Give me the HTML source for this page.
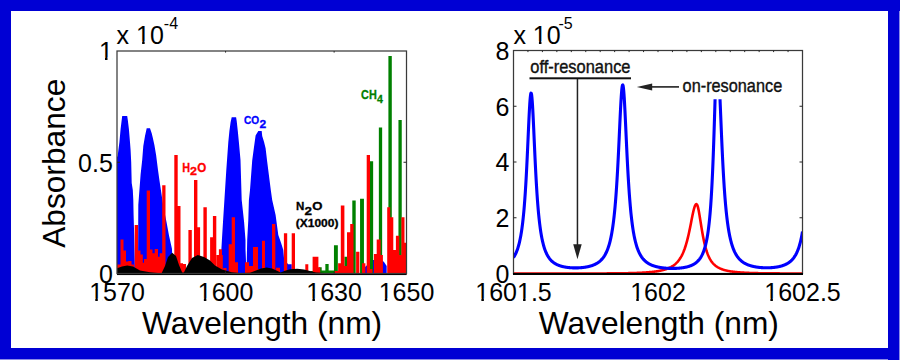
<!DOCTYPE html>
<html><head><meta charset="utf-8"><style>html,body{margin:0;padding:0;background:#fff;overflow:hidden}svg{display:block}</style></head>
<body><svg width="900" height="360" viewBox="0 0 900 360">
<rect x="0" y="0" width="900" height="360" fill="#0000d4"/>
<rect x="899" y="11" width="1" height="349" fill="#8c8ce6"/>
<rect x="0" y="359" width="888" height="1" fill="#8c8ce6"/>
<rect x="11" y="11" width="877" height="337" fill="#ffffff"/>
<defs><clipPath id="cl"><rect x="117" y="51" width="289.5" height="224.2"/></clipPath></defs>
<g clip-path="url(#cl)">
<path d="M116.0,273.5 L116.0,157.0 L117.6,156.5 L118.4,150.0 L119.4,142.2 L120.6,128.9 L121.7,120.0 L122.2,116.1 L127.2,116.1 L127.8,120.0 L128.9,128.9 L130.0,142.2 L130.6,150.0 L131.2,162.0 L131.7,183.0 L132.8,190.0 L133.3,200.0 L133.6,215.0 L134.2,235.0 L135.0,273.5Z" fill="#0000ff"/>
<path d="M138.0,273.5 L138.3,205.0 L140.6,174.4 L142.2,160.0 L143.3,146.1 L145.0,136.1 L146.7,128.3 L150.0,128.3 L151.7,133.3 L152.8,137.8 L154.4,145.0 L156.1,155.0 L158.0,170.0 L159.4,180.0 L163.6,208.0 L166.5,222.0 L169.0,235.5 L172.0,249.0 L172.5,273.5Z" fill="#0000ff"/>
<path d="M220.0,273.5 L221.9,240.0 L223.0,222.0 L224.4,200.0 L226.3,170.0 L228.3,142.2 L229.4,131.1 L230.6,122.2 L231.7,117.2 L236.1,117.2 L236.7,121.1 L237.8,131.1 L238.9,142.2 L240.5,160.0 L241.7,200.0 L244.1,222.0 L245.5,240.0 L245.5,249.0 L246.5,273.5Z" fill="#0000ff"/>
<path d="M246.5,273.5 L247.0,249.0 L247.2,240.0 L248.3,220.0 L248.9,200.0 L250.0,190.0 L252.2,160.6 L253.9,147.8 L255.6,135.6 L258.3,131.1 L261.7,131.1 L262.2,136.0 L264.0,141.7 L265.6,148.3 L267.2,161.7 L270.8,190.0 L272.2,200.0 L275.6,215.0 L278.3,235.0 L281.1,243.0 L283.3,250.0 L284.0,258.0 L288.0,264.2 L291.7,264.2 L292.0,273.5Z" fill="#0000ff"/>
<path d="M364.4,273.5 L365.0,267.0 L373.0,260.0 L381.7,260.0 L384.0,262.0 L386.7,266.0 L386.7,273.5Z" fill="#0000ff"/>
<path d="M310.45,275.0V271h2.5V275.0ZM318.90,275.0V267.2h2.8V275.0ZM325.35,275.0V263.9h3.3V275.0ZM333.95,275.0V245.3h3.9V275.0ZM344.40,275.0V256.7h2.8V275.0ZM352.30,275.0V200.5h3.4V275.0ZM360.05,275.0V198.7h3.9V275.0ZM369.85,275.0V161.3h3.3V275.0ZM378.85,275.0V127.5h3.3V275.0ZM388.40,275.0V56h3.4V275.0ZM398.45,275.0V120h3.3V275.0ZM318,275V270.6H334V275Z" fill="#008000"/>
<path d="M117.0,275.0V264.4H120.5V275.0ZM120.5,275.0V239.5H123.5V275.0ZM122.6,275.0V250.6H126.0V275.0ZM125.0,275.0V261.5H128.5V275.0ZM128.2,275.0V261H131.5V275.0ZM131.0,275.0V264.4H134.0V275.0ZM134.7,275.0V225H138.0V275.0ZM137.2,275.0V250.6H140.5V275.0ZM139.4,275.0V254.4H142.8V275.0ZM141.4,275.0V262.8H144.8V275.0ZM144.0,275.0V258.9H147.0V275.0ZM146.7,275.0V190.5H150.0V275.0ZM149.2,275.0V249.4H152.5V275.0ZM152.0,275.0V253.3H155.0V275.0ZM154.7,275.0V248.9H158.0V275.0ZM157.2,275.0V256.7H160.5V275.0ZM159.7,275.0V253.3H163.0V275.0ZM162.2,275.0V185.3H165.5V275.0ZM174.3,275.0V155H177.7V275.0ZM177.2,275.0V206.1H180.5V275.0ZM180.0,275.0V263.3H183.0V275.0ZM182.7,275.0V263.9H186.0V275.0ZM188.4,275.0V230H191.8V275.0ZM194.0,275.0V180H197.4V275.0ZM196.8,275.0V227.2H200.1V275.0ZM203.4,275.0V207.2H206.8V275.0ZM210.1,275.0V237.2H213.5V275.0ZM212.9,275.0V216.1H216.3V275.0ZM216.5,275.0V255H222.8V275.0ZM218.9,275.0V249.2H222.0V275.0ZM223.2,275.0V268H226.5V275.0ZM228.7,275.0V244.2H232.1V275.0ZM231.7,275.0V217.2H235.0V275.0ZM235.0,275.0V262.2H238.0V275.0ZM245.0,275.0V262.2H249.0V275.0ZM249.0,275.0V266H253.0V275.0ZM253.0,275.0V247H258.0V275.0ZM258.0,275.0V269H262.0V275.0ZM262.0,275.0V240.8H265.0V275.0ZM272.0,275.0V223.9H275.3V275.0ZM276.0,275.0V267.8H280.0V275.0ZM283.9,275.0V233.3H287.2V275.0ZM291.7,275.0V233.3H295.0V275.0ZM305.3,275.0V264.2H308.3V275.0ZM312.6,275.0V256.7H315.9V275.0ZM315.1,275.0V256.7H318.4V275.0ZM316.8,275.0V267.2H320.2V275.0ZM334.7,275.0V271H340.6V275.0ZM338.1,275.0V263.3H341.5V275.0ZM340.8,275.0V205.6H344.4V275.0ZM343.7,275.0V266H347.1V275.0ZM347.0,275.0V232.2H350.2V275.0ZM350.2,275.0V223.9H353.5V275.0ZM356.1,275.0V251.7H359.4V275.0ZM362.0,275.0V263.3H365.4V275.0ZM366.7,275.0V155H370.0V275.0ZM369.0,275.0V268.9H372.4V275.0ZM373.9,275.0V254H377.2V275.0ZM376.7,275.0V239.4H380.6V275.0ZM379.6,275.0V255H382.9V275.0ZM387.2,275.0V207.2H390.2V275.0ZM390.2,275.0V217.2H393.3V275.0ZM392.6,275.0V250H395.9V275.0ZM394.0,275.0V258H397.4V275.0ZM395.9,275.0V235.8H399.3V275.0ZM398.6,275.0V255H401.9V275.0ZM401.4,275.0V217.2H404.5V275.0ZM404.0,275.0V242.8H407.4V275.0Z" fill="#ff0000"/>
<path d="M117.0,268.3 L122.0,266.5 L127.2,265.6 L133.0,266.5 L140.0,270.6 L150.0,272.2 L158.0,273.0 L161.7,273.0 L165.0,266.0 L168.0,257.0 L172.2,252.8 L176.0,256.0 L179.0,265.0 L182.2,272.5 L183.9,272.5 L187.0,266.0 L192.0,258.0 L197.8,255.0 L204.0,257.0 L210.0,260.6 L215.0,265.6 L222.0,269.5 L231.7,272.2 L240.0,273.0 L250.0,272.8 L256.0,270.5 L261.0,268.5 L266.7,267.5 L272.0,268.5 L277.0,270.8 L280.6,272.5 L285.0,270.8 L290.0,269.3 L297.2,268.7 L304.0,269.5 L310.0,271.0 L316.0,272.5 L325.0,273.0 L407.0,273.0 L407.0,275.2 L117.0,275.2Z" fill="#000000"/>
</g>
<text x="244.0" y="123.8" font-size="11.5" font-weight="bold" font-family="Liberation Sans" fill="#0000ff" stroke="#0000ff" stroke-width="0.3" textLength="15.2" lengthAdjust="spacingAndGlyphs">CO</text>
<text x="259.6" y="127.9" font-size="11" font-weight="bold" font-family="Liberation Sans" fill="#0000ff" stroke="#0000ff" stroke-width="0.3" textLength="6.7" lengthAdjust="spacingAndGlyphs">2</text>
<text x="182.2" y="171.7" font-size="12.6" font-weight="bold" font-family="Liberation Sans" fill="#ff0000" stroke="#ff0000" stroke-width="0.3" textLength="7.8" lengthAdjust="spacingAndGlyphs">H</text>
<text x="190.0" y="175.4" font-size="11.7" font-weight="bold" font-family="Liberation Sans" fill="#ff0000" stroke="#ff0000" stroke-width="0.3" textLength="7.0" lengthAdjust="spacingAndGlyphs">2</text>
<text x="197.3" y="171.7" font-size="12.6" font-weight="bold" font-family="Liberation Sans" fill="#ff0000" stroke="#ff0000" stroke-width="0.3" textLength="9.0" lengthAdjust="spacingAndGlyphs">O</text>
<text x="296.0" y="210.0" font-size="11.0" font-weight="bold" font-family="Liberation Sans" fill="#000" stroke="#000" stroke-width="0.3" textLength="8.3" lengthAdjust="spacingAndGlyphs">N</text>
<text x="304.5" y="215.0" font-size="11.0" font-weight="bold" font-family="Liberation Sans" fill="#000" stroke="#000" stroke-width="0.3" textLength="7.5" lengthAdjust="spacingAndGlyphs">2</text>
<text x="312.3" y="210.0" font-size="11.0" font-weight="bold" font-family="Liberation Sans" fill="#000" stroke="#000" stroke-width="0.3" textLength="10.2" lengthAdjust="spacingAndGlyphs">O</text>
<text x="295.8" y="227.0" font-size="10.5" font-weight="bold" font-family="Liberation Sans" fill="#000" stroke="#000" stroke-width="0.3" textLength="42.6" lengthAdjust="spacingAndGlyphs">(X1000)</text>
<text x="361.1" y="98.75" font-size="12.0" font-weight="bold" font-family="Liberation Sans" fill="#008000" stroke="#008000" stroke-width="0.3" textLength="15.7" lengthAdjust="spacingAndGlyphs">CH</text>
<text x="377.0" y="102.9" font-size="11.0" font-weight="bold" font-family="Liberation Sans" fill="#008000" stroke="#008000" stroke-width="0.3" textLength="5.9" lengthAdjust="spacingAndGlyphs">4</text>
<defs><clipPath id="cr"><rect x="513.5" y="50.5" width="289" height="223"/></clipPath></defs>
<g clip-path="url(#cr)">
<path d="M513.50,273.50 L514.00,273.50 L514.50,273.50 L515.00,273.50 L515.50,273.50 L516.00,273.50 L516.50,273.50 L517.00,273.50 L517.50,273.50 L518.00,273.50 L518.50,273.50 L519.00,273.50 L519.50,273.50 L520.00,273.50 L520.50,273.50 L521.00,273.50 L521.50,273.50 L522.00,273.50 L522.50,273.50 L523.00,273.50 L523.50,273.50 L524.00,273.50 L524.50,273.50 L525.00,273.50 L525.50,273.50 L526.00,273.50 L526.50,273.50 L527.00,273.50 L527.50,273.50 L528.00,273.50 L528.50,273.50 L529.00,273.50 L529.50,273.50 L530.00,273.50 L530.50,273.50 L531.00,273.50 L531.50,273.50 L532.00,273.50 L532.50,273.50 L533.00,273.50 L533.50,273.50 L534.00,273.50 L534.50,273.50 L535.00,273.50 L535.50,273.50 L536.00,273.50 L536.50,273.50 L537.00,273.50 L537.50,273.50 L538.00,273.50 L538.50,273.50 L539.00,273.50 L539.50,273.50 L540.00,273.50 L540.50,273.50 L541.00,273.50 L541.50,273.50 L542.00,273.50 L542.50,273.50 L543.00,273.50 L543.50,273.50 L544.00,273.50 L544.50,273.50 L545.00,273.50 L545.50,273.50 L546.00,273.50 L546.50,273.50 L547.00,273.50 L547.50,273.50 L548.00,273.50 L548.50,273.50 L549.00,273.50 L549.50,273.50 L550.00,273.50 L550.50,273.50 L551.00,273.50 L551.50,273.50 L552.00,273.50 L552.50,273.50 L553.00,273.50 L553.50,273.50 L554.00,273.50 L554.50,273.50 L555.00,273.50 L555.50,273.50 L556.00,273.50 L556.50,273.50 L557.00,273.50 L557.50,273.50 L558.00,273.50 L558.50,273.50 L559.00,273.50 L559.50,273.50 L560.00,273.50 L560.50,273.50 L561.00,273.50 L561.50,273.50 L562.00,273.50 L562.50,273.50 L563.00,273.50 L563.50,273.50 L564.00,273.50 L564.50,273.50 L565.00,273.50 L565.50,273.50 L566.00,273.50 L566.50,273.50 L567.00,273.50 L567.50,273.50 L568.00,273.50 L568.50,273.50 L569.00,273.50 L569.50,273.50 L570.00,273.50 L570.50,273.50 L571.00,273.50 L571.50,273.50 L572.00,273.50 L572.50,273.49 L573.00,273.49 L573.50,273.49 L574.00,273.49 L574.50,273.49 L575.00,273.49 L575.50,273.49 L576.00,273.49 L576.50,273.49 L577.00,273.49 L577.50,273.49 L578.00,273.49 L578.50,273.49 L579.00,273.49 L579.50,273.49 L580.00,273.49 L580.50,273.49 L581.00,273.49 L581.50,273.49 L582.00,273.49 L582.50,273.49 L583.00,273.49 L583.50,273.49 L584.00,273.49 L584.50,273.49 L585.00,273.49 L585.50,273.49 L586.00,273.48 L586.50,273.48 L587.00,273.48 L587.50,273.48 L588.00,273.48 L588.50,273.48 L589.00,273.48 L589.50,273.48 L590.00,273.48 L590.50,273.48 L591.00,273.48 L591.50,273.48 L592.00,273.48 L592.50,273.47 L593.00,273.47 L593.50,273.47 L594.00,273.47 L594.50,273.47 L595.00,273.47 L595.50,273.47 L596.00,273.47 L596.50,273.47 L597.00,273.46 L597.50,273.46 L598.00,273.46 L598.50,273.46 L599.00,273.46 L599.50,273.46 L600.00,273.45 L600.50,273.45 L601.00,273.45 L601.50,273.45 L602.00,273.45 L602.50,273.45 L603.00,273.44 L603.50,273.44 L604.00,273.44 L604.50,273.44 L605.00,273.43 L605.50,273.43 L606.00,273.43 L606.50,273.43 L607.00,273.42 L607.50,273.42 L608.00,273.42 L608.50,273.42 L609.00,273.41 L609.50,273.41 L610.00,273.41 L610.50,273.40 L611.00,273.40 L611.50,273.40 L612.00,273.39 L612.50,273.39 L613.00,273.38 L613.50,273.38 L614.00,273.38 L614.50,273.37 L615.00,273.37 L615.50,273.36 L616.00,273.36 L616.50,273.35 L617.00,273.35 L617.50,273.34 L618.00,273.34 L618.50,273.33 L619.00,273.32 L619.50,273.32 L620.00,273.31 L620.50,273.31 L621.00,273.30 L621.50,273.29 L622.00,273.28 L622.50,273.28 L623.00,273.27 L623.50,273.26 L624.00,273.25 L624.50,273.25 L625.00,273.24 L625.50,273.23 L626.00,273.22 L626.50,273.21 L627.00,273.20 L627.50,273.19 L628.00,273.18 L628.50,273.17 L629.00,273.16 L629.50,273.14 L630.00,273.13 L630.50,273.12 L631.00,273.11 L631.50,273.09 L632.00,273.08 L632.50,273.07 L633.00,273.05 L633.50,273.04 L634.00,273.02 L634.50,273.00 L635.00,272.99 L635.50,272.97 L636.00,272.95 L636.50,272.93 L637.00,272.92 L637.50,272.90 L638.00,272.88 L638.50,272.85 L639.00,272.83 L639.50,272.81 L640.00,272.79 L640.50,272.76 L641.00,272.74 L641.50,272.71 L642.00,272.69 L642.50,272.66 L643.00,272.63 L643.50,272.60 L644.00,272.57 L644.50,272.54 L645.00,272.51 L645.50,272.48 L646.00,272.44 L646.50,272.41 L647.00,272.37 L647.50,272.33 L648.00,272.29 L648.50,272.25 L649.00,272.21 L649.50,272.16 L650.00,272.12 L650.50,272.07 L651.00,272.02 L651.50,271.97 L652.00,271.92 L652.50,271.86 L653.00,271.80 L653.50,271.75 L654.00,271.68 L654.50,271.62 L655.00,271.55 L655.50,271.49 L656.00,271.41 L656.50,271.34 L657.00,271.26 L657.50,271.18 L658.00,271.10 L658.50,271.01 L659.00,270.92 L659.50,270.83 L660.00,270.73 L660.50,270.63 L661.00,270.52 L661.50,270.41 L662.00,270.30 L662.50,270.18 L663.00,270.05 L663.50,269.92 L664.00,269.79 L664.50,269.64 L665.00,269.49 L665.50,269.34 L666.00,269.17 L666.50,269.00 L667.00,268.82 L667.50,268.63 L668.00,268.44 L668.50,268.23 L669.00,268.01 L669.50,267.78 L670.00,267.55 L670.50,267.29 L671.00,267.03 L671.50,266.75 L672.00,266.45 L672.50,266.14 L673.00,265.82 L673.50,265.47 L674.00,265.11 L674.50,264.72 L675.00,264.31 L675.50,263.88 L676.00,263.43 L676.50,262.94 L677.00,262.43 L677.50,261.88 L678.00,261.30 L678.50,260.69 L679.00,260.03 L679.50,259.33 L680.00,258.59 L680.50,257.80 L681.00,256.96 L681.50,256.06 L682.00,255.09 L682.50,254.07 L683.00,252.97 L683.50,251.80 L684.00,250.55 L684.50,249.22 L685.00,247.79 L685.50,246.28 L686.00,244.66 L686.50,242.94 L687.00,241.11 L687.50,239.17 L688.00,237.13 L688.50,234.97 L689.00,232.71 L689.50,230.36 L690.00,227.92 L690.50,225.42 L691.00,222.88 L691.50,220.32 L692.00,217.78 L692.50,215.31 L693.00,212.95 L693.50,210.77 L694.00,208.80 L694.50,207.12 L695.00,205.77 L695.50,204.79 L696.00,204.23 L696.50,204.10 L697.00,204.58 L697.50,205.70 L698.00,207.40 L698.50,209.61 L699.00,212.21 L699.50,215.10 L700.00,218.17 L700.50,221.33 L701.00,224.50 L701.50,227.61 L702.00,230.63 L702.50,233.51 L703.00,236.24 L703.50,238.80 L704.00,241.19 L704.50,243.42 L705.00,245.48 L705.50,247.39 L706.00,249.14 L706.50,250.77 L707.00,252.26 L707.50,253.64 L708.00,254.90 L708.50,256.07 L709.00,257.15 L709.50,258.15 L710.00,259.07 L710.50,259.92 L711.00,260.70 L711.50,261.43 L712.00,262.11 L712.50,262.74 L713.00,263.32 L713.50,263.86 L714.00,264.37 L714.50,264.84 L715.00,265.28 L715.50,265.70 L716.00,266.08 L716.50,266.44 L717.00,266.78 L717.50,267.10 L718.00,267.40 L718.50,267.68 L719.00,267.95 L719.50,268.20 L720.00,268.44 L720.50,268.66 L721.00,268.87 L721.50,269.07 L722.00,269.26 L722.50,269.44 L723.00,269.61 L723.50,269.77 L724.00,269.92 L724.50,270.07 L725.00,270.20 L725.50,270.34 L726.00,270.46 L726.50,270.58 L727.00,270.69 L727.50,270.80 L728.00,270.90 L728.50,271.00 L729.00,271.10 L729.50,271.19 L730.00,271.27 L730.50,271.36 L731.00,271.43 L731.50,271.51 L732.00,271.58 L732.50,271.65 L733.00,271.72 L733.50,271.78 L734.00,271.84 L734.50,271.90 L735.00,271.96 L735.50,272.01 L736.00,272.06 L736.50,272.11 L737.00,272.16 L737.50,272.21 L738.00,272.25 L738.50,272.29 L739.00,272.34 L739.50,272.38 L740.00,272.41 L740.50,272.45 L741.00,272.49 L741.50,272.52 L742.00,272.55 L742.50,272.58 L743.00,272.61 L743.50,272.64 L744.00,272.67 L744.50,272.70 L745.00,272.73 L745.50,272.75 L746.00,272.78 L746.50,272.80 L747.00,272.82 L747.50,272.85 L748.00,272.87 L748.50,272.89 L749.00,272.91 L749.50,272.93 L750.00,272.95 L750.50,272.96 L751.00,272.98 L751.50,273.00 L752.00,273.01 L752.50,273.03 L753.00,273.05 L753.50,273.06 L754.00,273.08 L754.50,273.09 L755.00,273.10 L755.50,273.12 L756.00,273.13 L756.50,273.14 L757.00,273.15 L757.50,273.16 L758.00,273.17 L758.50,273.18 L759.00,273.19 L759.50,273.20 L760.00,273.21 L760.50,273.22 L761.00,273.23 L761.50,273.24 L762.00,273.25 L762.50,273.26 L763.00,273.27 L763.50,273.27 L764.00,273.28 L764.50,273.29 L765.00,273.30 L765.50,273.30 L766.00,273.31 L766.50,273.31 L767.00,273.32 L767.50,273.33 L768.00,273.33 L768.50,273.34 L769.00,273.34 L769.50,273.35 L770.00,273.35 L770.50,273.36 L771.00,273.36 L771.50,273.37 L772.00,273.37 L772.50,273.38 L773.00,273.38 L773.50,273.38 L774.00,273.39 L774.50,273.39 L775.00,273.40 L775.50,273.40 L776.00,273.40 L776.50,273.41 L777.00,273.41 L777.50,273.41 L778.00,273.42 L778.50,273.42 L779.00,273.42 L779.50,273.42 L780.00,273.43 L780.50,273.43 L781.00,273.43 L781.50,273.43 L782.00,273.44 L782.50,273.44 L783.00,273.44 L783.50,273.44 L784.00,273.44 L784.50,273.45 L785.00,273.45 L785.50,273.45 L786.00,273.45 L786.50,273.45 L787.00,273.46 L787.50,273.46 L788.00,273.46 L788.50,273.46 L789.00,273.46 L789.50,273.46 L790.00,273.46 L790.50,273.47 L791.00,273.47 L791.50,273.47 L792.00,273.47 L792.50,273.47 L793.00,273.47 L793.50,273.47 L794.00,273.47 L794.50,273.47 L795.00,273.48 L795.50,273.48 L796.00,273.48 L796.50,273.48 L797.00,273.48 L797.50,273.48 L798.00,273.48 L798.50,273.48 L799.00,273.48 L799.50,273.48 L800.00,273.48 L800.50,273.48 L801.00,273.48 L801.50,273.48 L802.00,273.49 L802.50,273.49" fill="none" stroke="#ff0000" stroke-width="2.6" stroke-linejoin="round"/>
<path d="M513.50,257.55 L513.75,257.17 L514.00,256.78 L514.25,256.37 L514.50,255.94 L514.75,255.49 L515.00,255.03 L515.25,254.55 L515.50,254.05 L515.75,253.52 L516.00,252.98 L516.25,252.41 L516.50,251.81 L516.75,251.19 L517.00,250.54 L517.25,249.85 L517.50,249.14 L517.75,248.39 L518.00,247.61 L518.25,246.79 L518.50,245.93 L518.75,245.03 L519.00,244.08 L519.25,243.09 L519.50,242.04 L519.75,240.94 L520.00,239.78 L520.25,238.56 L520.50,237.28 L520.75,235.93 L521.00,234.50 L521.25,232.99 L521.50,231.40 L521.75,229.72 L522.00,227.95 L522.25,226.08 L522.50,224.09 L522.75,222.00 L523.00,219.78 L523.25,217.43 L523.50,214.94 L523.75,212.31 L524.00,209.53 L524.25,206.59 L524.50,203.47 L524.75,200.18 L525.00,196.70 L525.25,193.02 L525.50,189.15 L525.75,185.08 L526.00,180.80 L526.25,176.31 L526.50,171.62 L526.75,166.73 L527.00,161.66 L527.25,156.42 L527.50,151.04 L527.75,145.55 L528.00,139.98 L528.25,134.40 L528.50,128.85 L528.75,123.41 L529.00,118.15 L529.25,113.16 L529.50,108.53 L529.75,104.35 L530.00,100.72 L530.25,97.71 L530.50,95.40 L530.75,93.86 L531.00,93.12 L531.25,93.20 L531.50,94.10 L531.75,95.80 L532.00,98.25 L532.25,101.39 L532.50,105.14 L532.75,109.41 L533.00,114.12 L533.25,119.17 L533.50,124.47 L533.75,129.93 L534.00,135.49 L534.25,141.07 L534.50,146.63 L534.75,152.10 L535.00,157.45 L535.25,162.66 L535.50,167.69 L535.75,172.54 L536.00,177.19 L536.25,181.63 L536.50,185.87 L536.75,189.90 L537.00,193.73 L537.25,197.36 L537.50,200.80 L537.75,204.06 L538.00,207.14 L538.25,210.05 L538.50,212.80 L538.75,215.40 L539.00,217.85 L539.25,220.17 L539.50,222.36 L539.75,224.43 L540.00,226.39 L540.25,228.24 L540.50,230.00 L540.75,231.66 L541.00,233.23 L541.25,234.71 L541.50,236.12 L541.75,237.46 L542.00,238.73 L542.25,239.93 L542.50,241.08 L542.75,242.17 L543.00,243.20 L543.25,244.18 L543.50,245.12 L543.75,246.01 L544.00,246.86 L544.25,247.67 L544.50,248.45 L544.75,249.18 L545.00,249.89 L545.25,250.56 L545.50,251.21 L545.75,251.82 L546.00,252.41 L546.25,252.97 L546.50,253.51 L546.75,254.03 L547.00,254.53 L547.25,255.00 L547.50,255.46 L547.75,255.90 L548.00,256.32 L548.25,256.72 L548.50,257.11 L548.75,257.49 L549.00,257.85 L549.25,258.19 L549.50,258.53 L549.75,258.85 L550.00,259.16 L550.25,259.45 L550.50,259.74 L550.75,260.02 L551.00,260.29 L551.25,260.54 L551.50,260.79 L551.75,261.03 L552.00,261.26 L552.25,261.49 L552.50,261.71 L552.75,261.91 L553.00,262.12 L553.25,262.31 L553.50,262.50 L553.75,262.68 L554.00,262.86 L554.25,263.03 L554.50,263.20 L554.75,263.36 L555.00,263.52 L555.25,263.67 L555.50,263.81 L555.75,263.95 L556.00,264.09 L556.25,264.22 L556.50,264.35 L556.75,264.48 L557.00,264.60 L557.25,264.72 L557.50,264.83 L557.75,264.94 L558.00,265.05 L558.25,265.15 L558.50,265.25 L558.75,265.35 L559.00,265.45 L559.25,265.54 L559.50,265.63 L559.75,265.72 L560.00,265.80 L560.25,265.88 L560.50,265.96 L560.75,266.04 L561.00,266.11 L561.25,266.19 L561.50,266.26 L561.75,266.32 L562.00,266.39 L562.25,266.45 L562.50,266.52 L562.75,266.58 L563.00,266.64 L563.25,266.69 L563.50,266.75 L563.75,266.80 L564.00,266.85 L564.25,266.90 L564.50,266.95 L564.75,267.00 L565.00,267.04 L565.25,267.09 L565.50,267.13 L565.75,267.17 L566.00,267.21 L566.25,267.25 L566.50,267.29 L566.75,267.32 L567.00,267.36 L567.25,267.39 L567.50,267.42 L567.75,267.45 L568.00,267.48 L568.25,267.51 L568.50,267.54 L568.75,267.57 L569.00,267.59 L569.25,267.61 L569.50,267.64 L569.75,267.66 L570.00,267.68 L570.25,267.70 L570.50,267.72 L570.75,267.74 L571.00,267.75 L571.25,267.77 L571.50,267.78 L571.75,267.80 L572.00,267.81 L572.25,267.82 L572.50,267.83 L572.75,267.84 L573.00,267.85 L573.25,267.86 L573.50,267.87 L573.75,267.88 L574.00,267.88 L574.25,267.89 L574.50,267.89 L574.75,267.89 L575.00,267.89 L575.25,267.90 L575.50,267.90 L575.75,267.89 L576.00,267.89 L576.25,267.89 L576.50,267.89 L576.75,267.88 L577.00,267.88 L577.25,267.87 L577.50,267.87 L577.75,267.86 L578.00,267.85 L578.25,267.84 L578.50,267.83 L578.75,267.82 L579.00,267.81 L579.25,267.79 L579.50,267.78 L579.75,267.76 L580.00,267.75 L580.25,267.73 L580.50,267.71 L580.75,267.69 L581.00,267.67 L581.25,267.65 L581.50,267.63 L581.75,267.61 L582.00,267.59 L582.25,267.56 L582.50,267.54 L582.75,267.51 L583.00,267.48 L583.25,267.45 L583.50,267.42 L583.75,267.39 L584.00,267.36 L584.25,267.32 L584.50,267.29 L584.75,267.25 L585.00,267.22 L585.25,267.18 L585.50,267.14 L585.75,267.10 L586.00,267.06 L586.25,267.01 L586.50,266.97 L586.75,266.92 L587.00,266.87 L587.25,266.82 L587.50,266.77 L587.75,266.72 L588.00,266.67 L588.25,266.61 L588.50,266.56 L588.75,266.50 L589.00,266.44 L589.25,266.38 L589.50,266.31 L589.75,266.25 L590.00,266.18 L590.25,266.11 L590.50,266.04 L590.75,265.97 L591.00,265.89 L591.25,265.81 L591.50,265.74 L591.75,265.65 L592.00,265.57 L592.25,265.48 L592.50,265.39 L592.75,265.30 L593.00,265.21 L593.25,265.11 L593.50,265.01 L593.75,264.91 L594.00,264.81 L594.25,264.70 L594.50,264.59 L594.75,264.47 L595.00,264.36 L595.25,264.23 L595.50,264.11 L595.75,263.98 L596.00,263.85 L596.25,263.71 L596.50,263.58 L596.75,263.43 L597.00,263.28 L597.25,263.13 L597.50,262.97 L597.75,262.81 L598.00,262.65 L598.25,262.47 L598.50,262.30 L598.75,262.11 L599.00,261.93 L599.25,261.73 L599.50,261.53 L599.75,261.32 L600.00,261.11 L600.25,260.89 L600.50,260.66 L600.75,260.43 L601.00,260.19 L601.25,259.93 L601.50,259.68 L601.75,259.41 L602.00,259.13 L602.25,258.84 L602.50,258.55 L602.75,258.24 L603.00,257.92 L603.25,257.59 L603.50,257.25 L603.75,256.90 L604.00,256.53 L604.25,256.15 L604.50,255.76 L604.75,255.35 L605.00,254.92 L605.25,254.48 L605.50,254.02 L605.75,253.54 L606.00,253.05 L606.25,252.53 L606.50,252.00 L606.75,251.44 L607.00,250.86 L607.25,250.25 L607.50,249.62 L607.75,248.96 L608.00,248.28 L608.25,247.56 L608.50,246.81 L608.75,246.03 L609.00,245.21 L609.25,244.36 L609.50,243.47 L609.75,242.53 L610.00,241.55 L610.25,240.53 L610.50,239.45 L610.75,238.33 L611.00,237.14 L611.25,235.90 L611.50,234.60 L611.75,233.23 L612.00,231.79 L612.25,230.28 L612.50,228.69 L612.75,227.02 L613.00,225.25 L613.25,223.40 L613.50,221.44 L613.75,219.39 L614.00,217.22 L614.25,214.93 L614.50,212.52 L614.75,209.98 L615.00,207.30 L615.25,204.47 L615.50,201.50 L615.75,198.37 L616.00,195.07 L616.25,191.60 L616.50,187.95 L616.75,184.12 L617.00,180.11 L617.25,175.91 L617.50,171.53 L617.75,166.96 L618.00,162.22 L618.25,157.31 L618.50,152.24 L618.75,147.04 L619.00,141.73 L619.25,136.34 L619.50,130.92 L619.75,125.50 L620.00,120.14 L620.25,114.91 L620.50,109.86 L620.75,105.07 L621.00,100.62 L621.25,96.59 L621.50,93.04 L621.75,90.06 L622.00,87.70 L622.25,86.02 L622.50,85.06 L622.75,84.84 L623.00,85.36 L623.25,86.61 L623.50,88.57 L623.75,91.19 L624.00,94.40 L624.25,98.15 L624.50,102.37 L624.75,106.96 L625.00,111.86 L625.25,117.00 L625.50,122.29 L625.75,127.68 L626.00,133.11 L626.25,138.52 L626.50,143.88 L626.75,149.15 L627.00,154.30 L627.25,159.31 L627.50,164.16 L627.75,168.84 L628.00,173.33 L628.25,177.64 L628.50,181.77 L628.75,185.71 L629.00,189.46 L629.25,193.04 L629.50,196.44 L629.75,199.67 L630.00,202.74 L630.25,205.66 L630.50,208.42 L630.75,211.05 L631.00,213.54 L631.25,215.90 L631.50,218.14 L631.75,220.27 L632.00,222.28 L632.25,224.20 L632.50,226.02 L632.75,227.75 L633.00,229.39 L633.25,230.95 L633.50,232.43 L633.75,233.84 L634.00,235.18 L634.25,236.46 L634.50,237.68 L634.75,238.84 L635.00,239.95 L635.25,241.01 L635.50,242.01 L635.75,242.98 L636.00,243.90 L636.25,244.77 L636.50,245.61 L636.75,246.42 L637.00,247.19 L637.25,247.92 L637.50,248.63 L637.75,249.31 L638.00,249.96 L638.25,250.58 L638.50,251.17 L638.75,251.75 L639.00,252.30 L639.25,252.83 L639.50,253.34 L639.75,253.83 L640.00,254.30 L640.25,254.75 L640.50,255.19 L640.75,255.61 L641.00,256.01 L641.25,256.40 L641.50,256.78 L641.75,257.14 L642.00,257.49 L642.25,257.83 L642.50,258.16 L642.75,258.47 L643.00,258.78 L643.25,259.07 L643.50,259.35 L643.75,259.63 L644.00,259.90 L644.25,260.15 L644.50,260.40 L644.75,260.64 L645.00,260.88 L645.25,261.10 L645.50,261.32 L645.75,261.54 L646.00,261.74 L646.25,261.94 L646.50,262.14 L646.75,262.32 L647.00,262.51 L647.25,262.68 L647.50,262.86 L647.75,263.02 L648.00,263.18 L648.25,263.34 L648.50,263.49 L648.75,263.64 L649.00,263.79 L649.25,263.93 L649.50,264.06 L649.75,264.20 L650.00,264.32 L650.25,264.45 L650.50,264.57 L650.75,264.69 L651.00,264.81 L651.25,264.92 L651.50,265.03 L651.75,265.13 L652.00,265.24 L652.25,265.34 L652.50,265.44 L652.75,265.53 L653.00,265.62 L653.25,265.71 L653.50,265.80 L653.75,265.89 L654.00,265.97 L654.25,266.05 L654.50,266.13 L654.75,266.21 L655.00,266.28 L655.25,266.36 L655.50,266.43 L655.75,266.50 L656.00,266.57 L656.25,266.63 L656.50,266.70 L656.75,266.76 L657.00,266.82 L657.25,266.88 L657.50,266.94 L657.75,266.99 L658.00,267.05 L658.25,267.10 L658.50,267.15 L658.75,267.20 L659.00,267.25 L659.25,267.30 L659.50,267.35 L659.75,267.39 L660.00,267.44 L660.25,267.48 L660.50,267.52 L660.75,267.56 L661.00,267.60 L661.25,267.64 L661.50,267.68 L661.75,267.71 L662.00,267.75 L662.25,267.78 L662.50,267.81 L662.75,267.85 L663.00,267.88 L663.25,267.91 L663.50,267.94 L663.75,267.96 L664.00,267.99 L664.25,268.02 L664.50,268.04 L664.75,268.07 L665.00,268.09 L665.25,268.11 L665.50,268.13 L665.75,268.16 L666.00,268.18 L666.25,268.19 L666.50,268.21 L666.75,268.23 L667.00,268.25 L667.25,268.26 L667.50,268.28 L667.75,268.29 L668.00,268.31 L668.25,268.32 L668.50,268.33 L668.75,268.34 L669.00,268.35 L669.25,268.36 L669.50,268.37 L669.75,268.38 L670.00,268.39 L670.25,268.40 L670.50,268.40 L670.75,268.41 L671.00,268.41 L671.25,268.42 L671.50,268.42 L671.75,268.42 L672.00,268.42 L672.25,268.42 L672.50,268.42 L672.75,268.42 L673.00,268.42 L673.25,268.42 L673.50,268.42 L673.75,268.41 L674.00,268.41 L674.25,268.41 L674.50,268.40 L674.75,268.39 L675.00,268.39 L675.25,268.38 L675.50,268.37 L675.75,268.36 L676.00,268.35 L676.25,268.34 L676.50,268.33 L676.75,268.31 L677.00,268.30 L677.25,268.29 L677.50,268.27 L677.75,268.25 L678.00,268.24 L678.25,268.22 L678.50,268.20 L678.75,268.18 L679.00,268.16 L679.25,268.14 L679.50,268.12 L679.75,268.09 L680.00,268.07 L680.25,268.04 L680.50,268.02 L680.75,267.99 L681.00,267.96 L681.25,267.93 L681.50,267.90 L681.75,267.87 L682.00,267.83 L682.25,267.80 L682.50,267.76 L682.75,267.73 L683.00,267.69 L683.25,267.65 L683.50,267.61 L683.75,267.57 L684.00,267.53 L684.25,267.48 L684.50,267.44 L684.75,267.39 L685.00,267.34 L685.25,267.29 L685.50,267.24 L685.75,267.19 L686.00,267.13 L686.25,267.07 L686.50,267.01 L686.75,266.95 L687.00,266.89 L687.25,266.83 L687.50,266.76 L687.75,266.69 L688.00,266.62 L688.25,266.55 L688.50,266.48 L688.75,266.40 L689.00,266.32 L689.25,266.24 L689.50,266.16 L689.75,266.07 L690.00,265.98 L690.25,265.89 L690.50,265.79 L690.75,265.70 L691.00,265.60 L691.25,265.49 L691.50,265.39 L691.75,265.28 L692.00,265.16 L692.25,265.04 L692.50,264.92 L692.75,264.80 L693.00,264.67 L693.25,264.54 L693.50,264.40 L693.75,264.26 L694.00,264.11 L694.25,263.96 L694.50,263.80 L694.75,263.64 L695.00,263.47 L695.25,263.30 L695.50,263.12 L695.75,262.93 L696.00,262.74 L696.25,262.54 L696.50,262.34 L696.75,262.12 L697.00,261.90 L697.25,261.68 L697.50,261.44 L697.75,261.19 L698.00,260.94 L698.25,260.67 L698.50,260.40 L698.75,260.11 L699.00,259.81 L699.25,259.51 L699.50,259.19 L699.75,258.85 L700.00,258.51 L700.25,258.14 L700.50,257.77 L700.75,257.37 L701.00,256.97 L701.25,256.54 L701.50,256.09 L701.75,255.63 L702.00,255.14 L702.25,254.64 L702.50,254.11 L702.75,253.55 L703.00,252.97 L703.25,252.36 L703.50,251.72 L703.75,251.05 L704.00,250.35 L704.25,249.61 L704.50,248.83 L704.75,248.02 L705.00,247.16 L705.25,246.26 L705.50,245.30 L705.75,244.30 L706.00,243.24 L706.25,242.12 L706.50,240.94 L706.75,239.69 L707.00,238.37 L707.25,236.96 L707.50,235.48 L707.75,233.90 L708.00,232.23 L708.25,230.45 L708.50,228.56 L708.75,226.55 L709.00,224.40 L709.25,222.12 L709.50,219.68 L709.75,217.08 L710.00,214.31 L710.25,211.35 L710.50,208.18 L710.75,204.79 L711.00,201.17 L711.25,197.30 L711.50,193.16 L711.75,188.73 L712.00,184.00 L712.25,178.95 L712.50,173.57 L712.75,167.85 L713.00,161.76 L713.25,155.32 L713.50,148.52 L713.75,141.38 L714.00,133.91 L714.25,126.16 L714.50,118.17 L714.75,110.01 L715.00,101.79 L715.08,99.28M720.02,99.28 L720.25,104.78 L720.50,110.79 L720.75,116.85 L721.00,122.90 L721.25,128.88 L721.50,134.76 L721.75,140.51 L722.00,146.10 L722.25,151.51 L722.50,156.73 L722.75,161.74 L723.00,166.56 L723.25,171.16 L723.50,175.56 L723.75,179.75 L724.00,183.74 L724.25,187.53 L724.50,191.14 L724.75,194.57 L725.00,197.82 L725.25,200.91 L725.50,203.84 L725.75,206.62 L726.00,209.25 L726.25,211.75 L726.50,214.13 L726.75,216.38 L727.00,218.52 L727.25,220.55 L727.50,222.47 L727.75,224.31 L728.00,226.05 L728.25,227.70 L728.50,229.28 L728.75,230.78 L729.00,232.20 L729.25,233.56 L729.50,234.86 L729.75,236.10 L730.00,237.27 L730.25,238.40 L730.50,239.47 L730.75,240.50 L731.00,241.48 L731.25,242.42 L731.50,243.31 L731.75,244.17 L732.00,245.00 L732.25,245.78 L732.50,246.54 L732.75,247.26 L733.00,247.96 L733.25,248.62 L733.50,249.26 L733.75,249.88 L734.00,250.47 L734.25,251.04 L734.50,251.58 L734.75,252.11 L735.00,252.61 L735.25,253.10 L735.50,253.57 L735.75,254.02 L736.00,254.46 L736.25,254.88 L736.50,255.28 L736.75,255.67 L737.00,256.05 L737.25,256.41 L737.50,256.76 L737.75,257.10 L738.00,257.43 L738.25,257.75 L738.50,258.06 L738.75,258.35 L739.00,258.64 L739.25,258.92 L739.50,259.19 L739.75,259.45 L740.00,259.70 L740.25,259.95 L740.50,260.18 L740.75,260.41 L741.00,260.64 L741.25,260.85 L741.50,261.06 L741.75,261.27 L742.00,261.46 L742.25,261.65 L742.50,261.84 L742.75,262.02 L743.00,262.20 L743.25,262.37 L743.50,262.53 L743.75,262.69 L744.00,262.85 L744.25,263.00 L744.50,263.15 L744.75,263.29 L745.00,263.43 L745.25,263.57 L745.50,263.70 L745.75,263.83 L746.00,263.95 L746.25,264.07 L746.50,264.19 L746.75,264.31 L747.00,264.42 L747.25,264.53 L747.50,264.63 L747.75,264.74 L748.00,264.84 L748.25,264.93 L748.50,265.03 L748.75,265.12 L749.00,265.21 L749.25,265.30 L749.50,265.39 L749.75,265.47 L750.00,265.55 L750.25,265.63 L750.50,265.71 L750.75,265.78 L751.00,265.86 L751.25,265.93 L751.50,266.00 L751.75,266.06 L752.00,266.13 L752.25,266.19 L752.50,266.26 L752.75,266.32 L753.00,266.37 L753.25,266.43 L753.50,266.49 L753.75,266.54 L754.00,266.59 L754.25,266.65 L754.50,266.70 L754.75,266.74 L755.00,266.79 L755.25,266.84 L755.50,266.88 L755.75,266.93 L756.00,266.97 L756.25,267.01 L756.50,267.05 L756.75,267.09 L757.00,267.12 L757.25,267.16 L757.50,267.19 L757.75,267.23 L758.00,267.26 L758.25,267.29 L758.50,267.32 L758.75,267.35 L759.00,267.38 L759.25,267.41 L759.50,267.43 L759.75,267.46 L760.00,267.48 L760.25,267.50 L760.50,267.53 L760.75,267.55 L761.00,267.57 L761.25,267.59 L761.50,267.61 L761.75,267.62 L762.00,267.64 L762.25,267.66 L762.50,267.67 L762.75,267.69 L763.00,267.70 L763.25,267.71 L763.50,267.72 L763.75,267.73 L764.00,267.74 L764.25,267.75 L764.50,267.76 L764.75,267.77 L765.00,267.77 L765.25,267.78 L765.50,267.78 L765.75,267.79 L766.00,267.79 L766.25,267.79 L766.50,267.79 L766.75,267.79 L767.00,267.79 L767.25,267.79 L767.50,267.79 L767.75,267.78 L768.00,267.78 L768.25,267.78 L768.50,267.77 L768.75,267.76 L769.00,267.76 L769.25,267.75 L769.50,267.74 L769.75,267.73 L770.00,267.72 L770.25,267.71 L770.50,267.69 L770.75,267.68 L771.00,267.66 L771.25,267.65 L771.50,267.63 L771.75,267.61 L772.00,267.59 L772.25,267.58 L772.50,267.55 L772.75,267.53 L773.00,267.51 L773.25,267.49 L773.50,267.46 L773.75,267.44 L774.00,267.41 L774.25,267.38 L774.50,267.35 L774.75,267.32 L775.00,267.29 L775.25,267.26 L775.50,267.22 L775.75,267.19 L776.00,267.15 L776.25,267.11 L776.50,267.08 L776.75,267.04 L777.00,266.99 L777.25,266.95 L777.50,266.91 L777.75,266.86 L778.00,266.81 L778.25,266.77 L778.50,266.71 L778.75,266.66 L779.00,266.61 L779.25,266.55 L779.50,266.50 L779.75,266.44 L780.00,266.38 L780.25,266.32 L780.50,266.25 L780.75,266.19 L781.00,266.12 L781.25,266.05 L781.50,265.98 L781.75,265.90 L782.00,265.83 L782.25,265.75 L782.50,265.67 L782.75,265.58 L783.00,265.50 L783.25,265.41 L783.50,265.32 L783.75,265.23 L784.00,265.13 L784.25,265.03 L784.50,264.93 L784.75,264.83 L785.00,264.72 L785.25,264.61 L785.50,264.49 L785.75,264.37 L786.00,264.25 L786.25,264.13 L786.50,264.00 L786.75,263.87 L787.00,263.73 L787.25,263.59 L787.50,263.44 L787.75,263.29 L788.00,263.14 L788.25,262.98 L788.50,262.82 L788.75,262.65 L789.00,262.47 L789.25,262.29 L789.50,262.11 L789.75,261.91 L790.00,261.72 L790.25,261.51 L790.50,261.30 L790.75,261.08 L791.00,260.86 L791.25,260.62 L791.50,260.38 L791.75,260.13 L792.00,259.88 L792.25,259.61 L792.50,259.33 L792.75,259.05 L793.00,258.75 L793.25,258.44 L793.50,258.13 L793.75,257.80 L794.00,257.46 L794.25,257.10 L794.50,256.73 L794.75,256.35 L795.00,255.96 L795.25,255.55 L795.50,255.12 L795.75,254.68 L796.00,254.21 L796.25,253.73 L796.50,253.23 L796.75,252.72 L797.00,252.17 L797.25,251.61 L797.50,251.02 L797.75,250.41 L798.00,249.77 L798.25,249.11 L798.50,248.41 L798.75,247.68 L799.00,246.92 L799.25,246.13 L799.50,245.30 L799.75,244.43 L800.00,243.52 L800.25,242.57 L800.50,241.57 L800.75,240.52 L801.00,239.43 L801.25,238.28 L801.50,237.07 L801.75,235.80 L802.00,234.46 L802.25,233.06 L802.50,231.59" fill="none" stroke="#0000ff" stroke-width="3.1" stroke-linejoin="round" stroke-linecap="butt"/>
</g>
<text x="530.3" y="73.2" font-size="19" font-family="Liberation Sans" textLength="100.2" lengthAdjust="spacingAndGlyphs" fill="#111" stroke="#111" stroke-width="0.4">off-resonance</text>
<rect x="529.5" y="77.3" width="101.5" height="2" fill="#111"/>
<rect x="576.7" y="79" width="1.5" height="170" fill="#222"/>
<path d="M577.45,259.2 L573.2,244.2 L581.7,244.2 Z" fill="#222"/>
<text x="682.6" y="92.0" font-size="19" font-family="Liberation Sans" textLength="99.6" lengthAdjust="spacingAndGlyphs" fill="#111" stroke="#111" stroke-width="0.4">on-resonance</text>
<rect x="650" y="86.1" width="29" height="1.6" fill="#222"/>
<path d="M636.8,86.9 L652.2,83.4 L652.2,90.4 Z" fill="#222"/>
<rect x="117.0" y="51.0" width="289.5" height="222.5" fill="none" stroke="#3a3a3a" stroke-width="1.25"/>
<path d="M225.5625,273.5v-2M225.5625,51.0v1.6M334.125,273.5v-2M334.125,51.0v1.6M117.0,162.25h3M406.5,162.25h-3" stroke="#262626" stroke-width="1" fill="none"/>
<rect x="513.5" y="50.5" width="289.0" height="223.0" fill="none" stroke="#3a3a3a" stroke-width="1.25"/>
<path d="M527.9499999999869,50.5v1.6M542.3999999999737,50.5v1.6M556.8500000000263,50.5v1.6M571.3000000000131,50.5v1.6M585.75,50.5v1.6M600.1999999999869,50.5v1.6M614.6499999999737,50.5v1.6M629.1000000000263,50.5v1.6M643.5500000000131,50.5v1.6M658.0,50.5v1.6M672.4499999999869,50.5v1.6M686.8999999999737,50.5v1.6M701.3500000000263,50.5v1.6M715.8000000000131,50.5v1.6M730.25,50.5v1.6M744.6999999999869,50.5v1.6M759.1499999999737,50.5v1.6M773.6000000000263,50.5v1.6M788.0500000000131,50.5v1.6M513.5,217.75h3M802.5,217.75h-3M513.5,162.0h3M802.5,162.0h-3M513.5,106.25h3M802.5,106.25h-3" stroke="#262626" stroke-width="1" fill="none"/>
<rect x="513" y="273" width="290" height="2" fill="#000"/>
<text x="112.8" y="60.3" font-size="25" text-anchor="end" fill="#000" font-family="Liberation Sans" >1</text>
<text x="112.8" y="171.55" font-size="25" text-anchor="end" fill="#000" font-family="Liberation Sans" >0.5</text>
<text x="112.8" y="282.8" font-size="25" text-anchor="end" fill="#000" font-family="Liberation Sans" >0</text>
<text x="117.0" y="301.3" font-size="25" text-anchor="middle" fill="#000" font-family="Liberation Sans" >1570</text>
<text x="225.5625" y="301.3" font-size="25" text-anchor="middle" fill="#000" font-family="Liberation Sans" >1600</text>
<text x="334.125" y="301.3" font-size="25" text-anchor="middle" fill="#000" font-family="Liberation Sans" >1630</text>
<text x="406.5" y="301.3" font-size="25" text-anchor="middle" fill="#000" font-family="Liberation Sans" >1650</text>
<text x="116.6" y="44" font-size="25" text-anchor="start" fill="#000" font-family="Liberation Sans" >x 10</text>
<text x="163.8" y="28.6" font-size="16" text-anchor="start" fill="#000" font-family="Liberation Sans" >-4</text>
<text x="262.1" y="334" font-size="31.7" text-anchor="middle" fill="#000" font-family="Liberation Sans" >Wavelength (nm)</text>
<text transform="translate(64.6,163.3) rotate(-90)" font-size="31.7" text-anchor="middle" font-family="Liberation Sans">Absorbance</text>
<text x="509.4" y="59.8" font-size="25" text-anchor="end" fill="#000" font-family="Liberation Sans" >8</text>
<text x="509.4" y="115.55" font-size="25" text-anchor="end" fill="#000" font-family="Liberation Sans" >6</text>
<text x="509.4" y="171.3" font-size="25" text-anchor="end" fill="#000" font-family="Liberation Sans" >4</text>
<text x="509.4" y="227.05" font-size="25" text-anchor="end" fill="#000" font-family="Liberation Sans" >2</text>
<text x="509.4" y="282.8" font-size="25" text-anchor="end" fill="#000" font-family="Liberation Sans" >0</text>
<text x="513.5" y="301.3" font-size="25" text-anchor="middle" fill="#000" font-family="Liberation Sans" >1601.5</text>
<text x="658.0" y="301.3" font-size="25" text-anchor="middle" fill="#000" font-family="Liberation Sans" >1602</text>
<text x="802.5" y="301.3" font-size="25" text-anchor="middle" fill="#000" font-family="Liberation Sans" >1602.5</text>
<text x="513.4" y="44" font-size="25" text-anchor="start" fill="#000" font-family="Liberation Sans" >x 10</text>
<text x="558.4" y="28.6" font-size="16" text-anchor="start" fill="#000" font-family="Liberation Sans" >-5</text>
<text x="658.8" y="334" font-size="31.7" text-anchor="middle" fill="#000" font-family="Liberation Sans" >Wavelength (nm)</text>
<rect x="99.49" y="57.50" width="5.50" height="4.30" fill="#fff"/>
<rect x="107.49" y="57.50" width="5.00" height="4.30" fill="#fff"/>
<rect x="89.79" y="298.50" width="5.50" height="4.30" fill="#fff"/>
<rect x="97.79" y="298.50" width="5.00" height="4.30" fill="#fff"/>
<rect x="198.35" y="298.50" width="5.50" height="4.30" fill="#fff"/>
<rect x="206.35" y="298.50" width="5.00" height="4.30" fill="#fff"/>
<rect x="306.91" y="298.50" width="5.50" height="4.30" fill="#fff"/>
<rect x="314.91" y="298.50" width="5.00" height="4.30" fill="#fff"/>
<rect x="379.29" y="298.50" width="5.50" height="4.30" fill="#fff"/>
<rect x="387.29" y="298.50" width="5.00" height="4.30" fill="#fff"/>
<rect x="136.64" y="41.20" width="5.50" height="4.30" fill="#fff"/>
<rect x="144.64" y="41.20" width="5.00" height="4.30" fill="#fff"/>
<rect x="475.87" y="298.50" width="5.50" height="4.30" fill="#fff"/>
<rect x="483.87" y="298.50" width="5.00" height="4.30" fill="#fff"/>
<rect x="517.57" y="298.50" width="5.50" height="4.30" fill="#fff"/>
<rect x="525.57" y="298.50" width="5.00" height="4.30" fill="#fff"/>
<rect x="630.79" y="298.50" width="5.50" height="4.30" fill="#fff"/>
<rect x="638.79" y="298.50" width="5.00" height="4.30" fill="#fff"/>
<rect x="764.87" y="298.50" width="5.50" height="4.30" fill="#fff"/>
<rect x="772.87" y="298.50" width="5.00" height="4.30" fill="#fff"/>
<rect x="533.44" y="41.20" width="5.50" height="4.30" fill="#fff"/>
<rect x="541.44" y="41.20" width="5.00" height="4.30" fill="#fff"/>
</svg></body></html>
